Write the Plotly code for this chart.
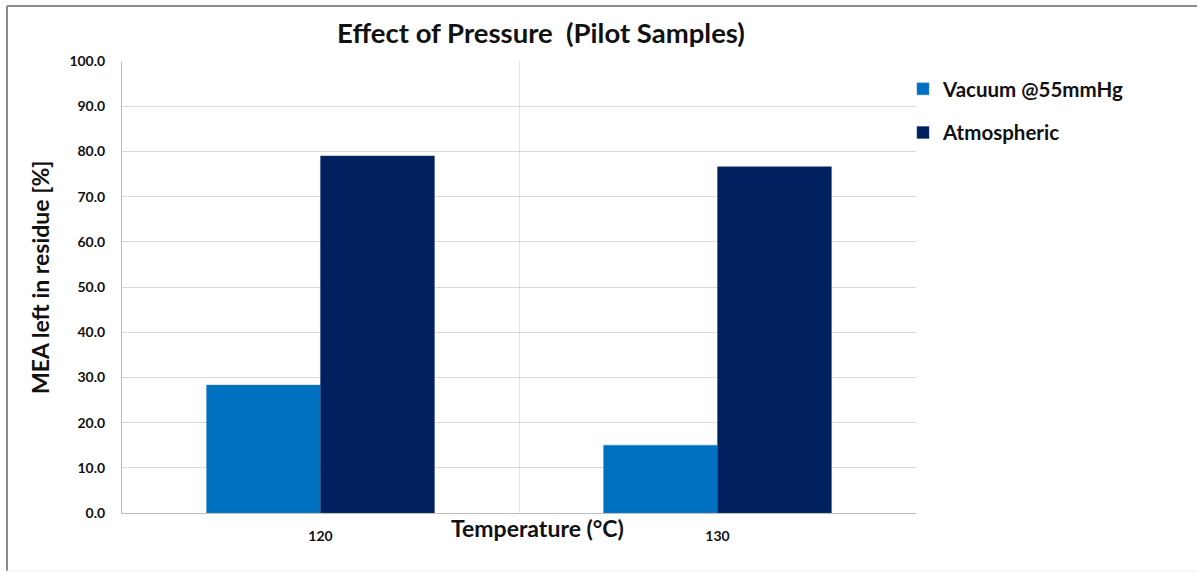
import plotly.graph_objects as go

categories = ["120", "130"]
vacuum = [28.3, 15.0]
atmospheric = [79.0, 76.6]
series_names = ["Vacuum @55mmHg", "Atmospheric"]
y_ticks = [0, 10, 20, 30, 40, 50, 60, 70, 80, 90, 100]

W, H = 1197, 572
L, R, T, B = 122, 916, 61, 513
pw, ph = R - L, B - T

def px(x):
    return (x - L) / pw

def py(y):
    return (B - y) / ph

FONT = "Lato, 'Open Sans', sans-serif"

fig = go.Figure()
fig.add_trace(go.Bar(x=categories, y=vacuum, name=series_names[0],
                     marker=dict(color="#0070C0", line=dict(color="#3F8FD0", width=0.5)),
                     legendgroup="a"))
fig.add_trace(go.Bar(x=categories, y=atmospheric, name=series_names[1],
                     marker=dict(color="#002060", line=dict(color="#2A4580", width=0.5)),
                     legendgroup="b"))

tickfont = dict(size=14, family=FONT, color="#111", weight="bold")

fig.update_layout(
    width=W, height=H,
    margin=dict(l=L, r=W - R, t=T, b=H - B, autoexpand=False),
    paper_bgcolor="white", plot_bgcolor="white",
    barmode="group", bargap=0.426, bargroupgap=0,
    font=dict(family=FONT, color="#1a1a1a"),
    title=dict(text="Effect of Pressure  (Pilot Samples)",
               font=dict(size=27.5, family=FONT, color="#111", weight="bold"),
               xref="container", yref="container",
               x=541 / W, xanchor="center", y=1 - 33 / H, yanchor="middle"),
    showlegend=True,
    legend=dict(x=px(903), xanchor="left", y=py(69), yanchor="top",
                font=dict(size=20.5, family=FONT, color="#111", weight="bold"),
                tracegroupgap=14, traceorder="grouped",
                bgcolor="rgba(0,0,0,0)"),
    xaxis=dict(type="category", tickson="boundaries", showgrid=True,
               gridcolor="#DCE6F2", gridwidth=1,
               showline=True, linecolor="#BFBFBF", linewidth=1,
               ticks="", ticklabelstandoff=10,
               tickfont=tickfont,
               range=[-0.5, 1.5], zeroline=False),
    yaxis=dict(range=[0, 100], tickvals=y_ticks, tickformat=".1f",
               showgrid=True, gridcolor="#D9D9D9", gridwidth=1,
               showline=True, linecolor="#BFBFBF", linewidth=1,
               ticks="", ticklabelstandoff=13,
               tickfont=tickfont, zeroline=False),
)

fig.add_annotation(text="MEA left in residue [%]", textangle=-90,
                   xref="paper", yref="paper", x=px(40), y=py(278),
                   xanchor="center", yanchor="middle", showarrow=False,
                   font=dict(size=23, family=FONT, color="#111", weight="bold"))
fig.add_annotation(text="Temperature (°C)",
                   xref="paper", yref="paper", x=px(537), y=py(528),
                   xanchor="center", yanchor="middle", showarrow=False,
                   font=dict(size=23, family=FONT, color="#111", weight="bold"))

# outer chart frame
fig.add_shape(type="line", xref="paper", yref="paper",
              x0=px(7), x1=px(1200), y0=py(6), y1=py(6),
              line=dict(color="#8C8C8C", width=2), layer="above")
fig.add_shape(type="line", xref="paper", yref="paper",
              x0=px(7), x1=px(7), y0=py(6), y1=py(571),
              line=dict(color="#8C8C8C", width=2), layer="above")
fig.add_shape(type="line", xref="paper", yref="paper",
              x0=px(7), x1=px(1200), y0=py(571), y1=py(571),
              line=dict(color="#EEEEEE", width=1), layer="above")

fig.write_html("out.html")
